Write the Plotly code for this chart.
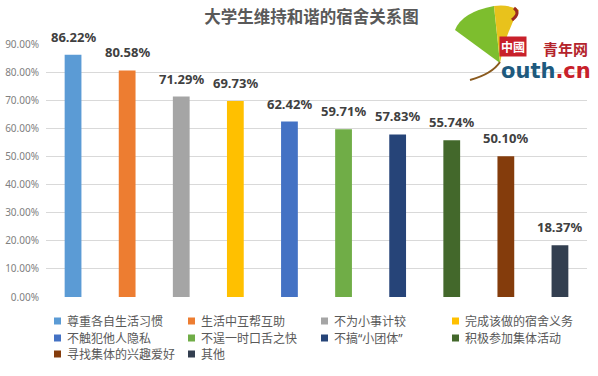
import plotly.graph_objects as go

categories = ["尊重各自生活习惯", "生活中互帮互助", "不为小事计较", "完成该做的宿舍义务",
              "不触犯他人隐私", "不逞一时口舌之快", "不搞“小团体”", "积极参加集体活动",
              "寻找集体的兴趣爱好", "其他"]
values = [0.8622, 0.8058, 0.7129, 0.6973, 0.6242, 0.5971, 0.5783, 0.5574, 0.5010, 0.1837]
colors = ["#5B9BD5", "#ED7D31", "#A5A5A5", "#FFC000", "#4472C4",
          "#70AD47", "#264478", "#43682B", "#843C0C", "#333F50"]
title_text = "大学生维持和谐的宿舍关系图"

W, H = 598, 376
L, R, T, B = 46, 11, 44, 79
PW, PH = W - L - R, H - T - B

def px(x):
    return (x - L) / PW

def py(y):
    return (H - B - y) / PH

FONT = "Noto Sans, Noto Sans CJK SC, sans-serif"

fig = go.Figure()
for c, v, col in zip(categories, values, colors):
    fig.add_trace(go.Bar(x=[c], y=[v], name=c, marker=dict(color=col, line=dict(width=0)),
                         width=0.31, hoverinfo="skip", showlegend=False))
    fig.add_annotation(x=c, y=v, text=f"<b>{v*100:.2f}%</b>", showarrow=False,
                       yanchor="bottom", yshift=7,
                       font=dict(size=13, color="#404040", family=FONT))

# legend built from the category list (4 columns)
col_x = [54, 188, 321, 452]
row_y = [321, 338, 354]
for i, (c, col) in enumerate(zip(categories, colors)):
    cx, cy = col_x[i % 4], row_y[i // 4]
    fig.add_shape(type="rect", xref="paper", yref="paper",
                  x0=px(cx), x1=px(cx + 7), y0=py(cy + 3.5), y1=py(cy - 3.5),
                  fillcolor=col, line=dict(width=0))
    fig.add_annotation(x=px(cx + 11), y=py(cy), xref="paper", yref="paper", text=c,
                       xanchor="left", yanchor="middle", showarrow=False,
                       font=dict(size=12, color="#595959", family=FONT))

fig.update_layout(
    width=W, height=H,
    margin=dict(l=L, r=R, t=T, b=B, autoexpand=False),
    paper_bgcolor="white", plot_bgcolor="white",
    barmode="relative",
    font=dict(family=FONT),
    showlegend=False,
    hovermode=False,
    title=dict(text=f"<b>{title_text}</b>", x=311.5 / W, xanchor="center",
               y=1 - 17 / H, yanchor="middle",
               font=dict(size=16.5, color="#595959", family=FONT)),
    xaxis=dict(showticklabels=False, showgrid=False, zeroline=False, showline=False,
               range=[-0.5, 9.5], fixedrange=True),
    yaxis=dict(range=[0, 0.9], dtick=0.1, tickformat=".2%", showgrid=True,
               gridcolor="#D9D9D9", gridwidth=1, zeroline=False, showline=False,
               tickfont=dict(size=10, color="#808080", family=FONT), ticklabelstandoff=6,
               fixedrange=True),
)

# logo (decorative): ginkgo leaf + text
leaf_green = (f"M {px(500)},{py(63)} L {px(455)},{py(30)} Q {px(462)},{py(12)} {px(494)},{py(6)} "
              f"L {px(500)},{py(63)} Z")
leaf_yellow = (f"M {px(500)},{py(63)} L {px(494)},{py(6)} Q {px(508)},{py(4)} {px(519)},{py(10)} "
               f"Q {px(506)},{py(32)} {px(500)},{py(63)} Z")
fig.add_shape(type="path", path=leaf_green, xref="paper", yref="paper",
              fillcolor="#7DBE2E", line=dict(width=0))
fig.add_shape(type="path", path=leaf_yellow, xref="paper", yref="paper",
              fillcolor="#E8C21C", line=dict(width=0))
fig.add_shape(type="path", path=f"M {px(514)},{py(8)} Q {px(521)},{py(13)} {px(512)},{py(20)}",
              xref="paper", yref="paper", line=dict(color="#9B2A1E", width=3))
fig.add_shape(type="path", path=f"M {px(500)},{py(62)} Q {px(492)},{py(74)} {px(470)},{py(80)}",
              xref="paper", yref="paper", line=dict(color="#8A5A1E", width=2))
fig.add_annotation(x=px(527), y=py(36), xref="paper", yref="paper", text="<b>中國</b>",
                   showarrow=False, bgcolor="#C8202A", borderpad=1,
                   font=dict(size=12, color="#FFFFFF", family="Noto Sans CJK TC"))
fig.add_annotation(x=px(541), y=py(36), xref="paper", yref="paper", text="<b>青年网</b>",
                   xanchor="left", showarrow=False,
                   font=dict(size=15, color="#B4232B", family="Noto Sans CJK SC"))
fig.add_annotation(x=px(499), y=py(57), xref="paper", yref="paper",
                   text="<b><span style='color:#1E5A7E'>outh</span><span style='color:#C8202A'>.cn</span></b>",
                   xanchor="left", showarrow=False,
                   font=dict(size=21, family="DejaVu Sans"))

fig.write_html("out.html", config={"displayModeBar": False, "staticPlot": True},
               post_script="document.body.style.margin='0';")
